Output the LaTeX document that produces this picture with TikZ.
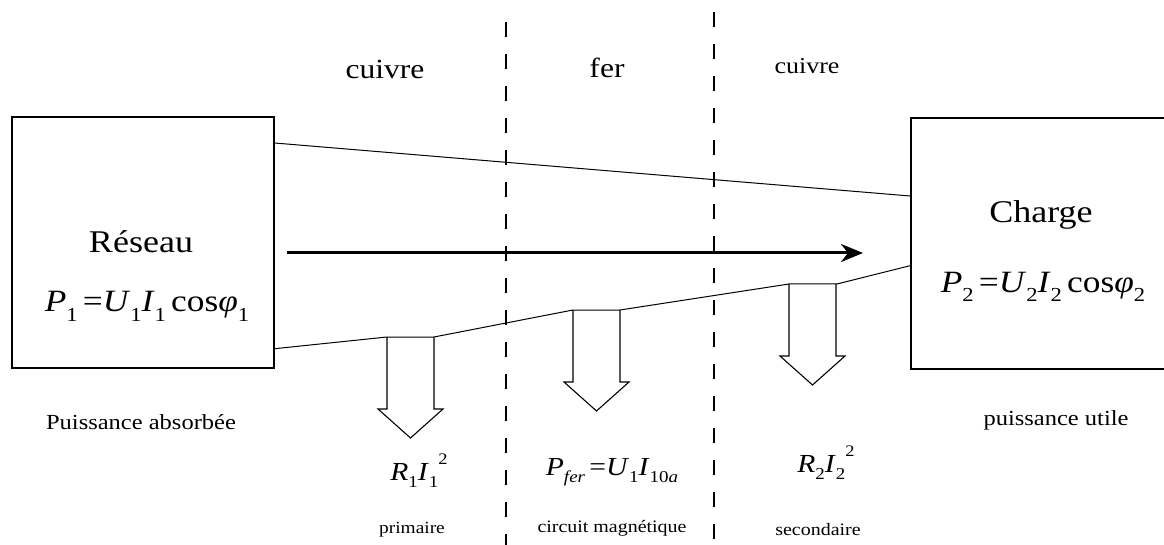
\documentclass[tikz,border=0pt]{standalone}
\usepackage{fontspec}
\setmainfont{Liberation Serif}[FakeStretch=1.14]
\usetikzlibrary{arrows.meta}
\usetikzlibrary{calc}
\newcommand{\lo}[1]{\raisebox{-0.3em}{\scalebox{0.64}{#1}}}
\newcommand{\hi}[1]{\raisebox{0.6em}{\scalebox{0.62}{#1}}}
\newcommand{\fs}[1]{\fontsize{#1}{#1}\selectfont}

\tikzset{
  box/.style={draw,line width=1.7pt,minimum height=251pt,inner sep=0pt,anchor=north west},
  lbl/.style={anchor=base,inner sep=0pt},
  sep/.style={line width=1.1pt,dash pattern=on 15pt off 17pt},
  loss/.style={line width=1.1pt,line join=miter},
}

\begin{document}
\begin{tikzpicture}[x=1pt,y=-1pt]
\useasboundingbox (0,0) rectangle (1164,545);
% draw the two boxes
\node[box,minimum width=262pt] (reseau) at (11,116) {};
\node[box,minimum width=256pt] (charge) at (910,117) {};
% draw the separations cuivre / fer / cuivre
\draw[sep] (506,22) -- (506,545);
\draw[sep] (714,12) -- (714,545);
% upper border of the power flow
\coordinate (up1) at ($(reseau.north east)+(0,27)$);
\coordinate (up2) at ($(charge.north west)+(0,79)$);
\draw[line width=1pt] (up1) -- (up2);
% lower border of the power flow, with the losses
\coordinate (lo1) at ($(reseau.south east)+(0,-20)$);
\coordinate (a1) at (387,337);
\coordinate (b1) at (434,337);
\coordinate (a2) at (573,310);
\coordinate (b2) at (620,310);
\coordinate (a3) at (789,284);
\coordinate (b3) at (837,284);
\coordinate (lo2) at ($(charge.south west)+(0,-104)$);
\draw[line width=1pt] (lo1) -- (a1) -- (b1) -- (a2) -- (b2) -- (a3) -- (b3) -- (lo2);
% draw the hollow loss arrows
\foreach \p in {a1,a2,a3}
  \draw[loss] (\p) -- ++(0,72) -- ++(-9,0) -- ++(32.5,29) -- ++(32.5,-29) -- ++(-9,0) -- ++(0,-72);
% draw the power arrow
\coordinate (f1) at (287,253);
\coordinate (f2) at (863,253);
\draw[-{Stealth[length=22pt,width=18pt,inset=7pt]},line width=3pt] (f1) -- (f2);
% zone names
\node[lbl,font=\fs{27.7}] (cu1) at (385,79) {cuivre};
\node[lbl,font=\fs{27.7}] (fer) at (607,78) {fer};
\node[lbl,font=\fs{22.8}] (cu2) at (807,74) {cuivre};
% box texts
\node[lbl,font=\fs{31.6}] (res) at (141,253) {Réseau};
\node[lbl,font=\fs{31}] (p1) at (147,312) {\textit{P}\lo{1}\,=\textit{U}\lo{1}\textit{I}\lo{1}\,cos\textit{φ}\lo{1}};
\node[lbl,font=\fs{31.6}] (chg) at (1041,223) {Charge};
\node[lbl,font=\fs{31}] (p2) at (1043,292) {\textit{P}\lo{2}\,=\textit{U}\lo{2}\textit{I}\lo{2}\,cos\textit{φ}\lo{2}};
\node[lbl,font=\fs{21.5}] (abs) at (141,429) {Puissance absorbée};
\node[lbl,font=\fs{21.5}] (uti) at (1056,425) {puissance utile};
% losses
\node[lbl,font=\fs{26}] (r1) at (419,480) {\textit{R}\lo{1}\textit{I}\lo{1}\hi{2}};
\node[lbl,font=\fs{26}] (pfer) at (612,475) {\textit{P}\lo{\textit{fer}}\,=\textit{U}\lo{1}\textit{I}\lo{10\textit{a}}};
\node[lbl,font=\fs{26}] (r2) at (826,472) {\textit{R}\lo{2}\textit{I}\lo{2}\hi{2}};
\node[lbl,font=\fs{17}] (pri) at (412,533) {primaire};
\node[lbl,font=\fs{17.5}] (mag) at (612,532) {circuit magnétique};
\node[lbl,font=\fs{17.5}] (sec) at (818,535) {secondaire};
\end{tikzpicture}
\end{document}
